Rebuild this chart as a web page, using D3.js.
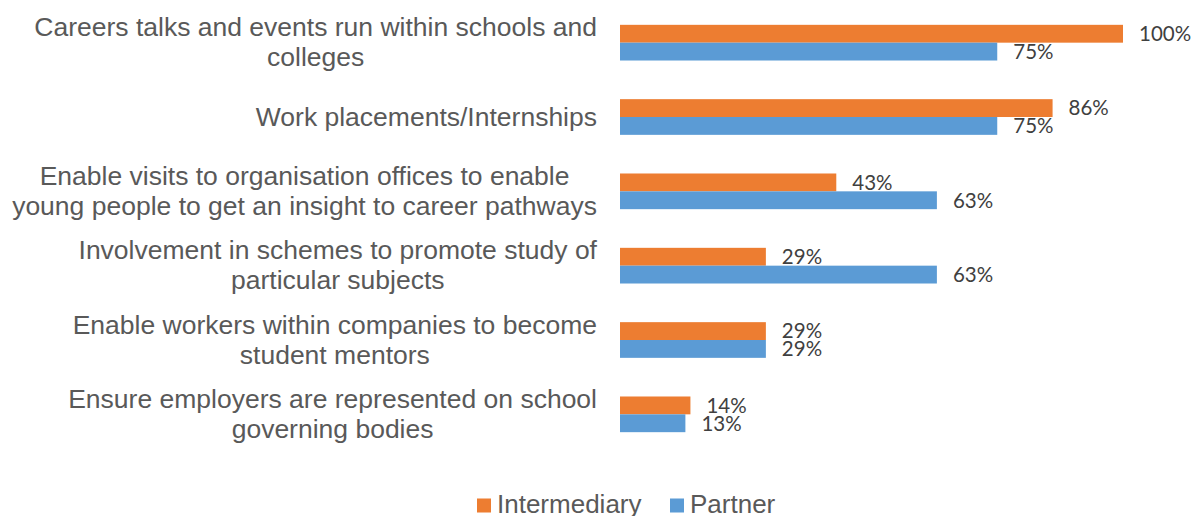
<!DOCTYPE html>
<html>
<head>
<meta charset="utf-8">
<script src="https://cdn.jsdelivr.net/npm/d3@7"></script>
<style>
  html, body { margin: 0; padding: 0; background: #fff; }
  svg { display: block; }
</style>
</head>
<body>
<svg id="chart" width="1195" height="516"></svg>
<script>
// Categories, each split into the lines shown on the axis
const categories = [
  ["Careers talks and events run within schools and", "colleges"],
  ["Work placements/Internships"],
  ["Enable visits to organisation offices to enable", "young people to get an insight to career pathways"],
  ["Involvement in schemes to promote study of", "particular subjects"],
  ["Enable workers within companies to become", "student mentors"],
  ["Ensure employers are represented on school", "governing bodies"]
];
const seriesNames = ["Intermediary", "Partner"];
const intermediary = [100, 86, 43, 29, 29, 14];
const partner = [75, 75, 63, 63, 29, 13];
const seriesColors = ["#ED7D31", "#5B9BD5"];

const svg = d3.select("#chart");
const plot = { left: 620, right: 1123, top: 5.5, bottom: 451.5 };

const keys = categories.map((c, i) => "c" + i);
const x = d3.scaleLinear().domain([0, 100]).range([plot.left, plot.right]);
const y = d3.scaleBand().domain(keys).range([plot.top, plot.bottom]).paddingInner(0.52).paddingOuter(0.26);
const ySub = d3.scaleBand().domain(seriesNames).range([0, y.bandwidth()]);

const rows = keys.map((k, i) => ({
  key: k,
  lines: categories[i],
  values: [
    { name: seriesNames[0], v: intermediary[i], color: seriesColors[0] },
    { name: seriesNames[1], v: partner[i], color: seriesColors[1] }
  ]
}));

// Bars
const groups = svg.append("g").selectAll("g").data(rows).join("g")
  .attr("transform", d => `translate(0,${y(d.key)})`);

groups.selectAll("rect").data(d => d.values).join("rect")
  .attr("x", x(0))
  .attr("y", d => ySub(d.name))
  .attr("width", d => x(d.v) - x(0))
  .attr("height", ySub.bandwidth())
  .attr("fill", d => d.color);

// Value labels
groups.selectAll("text").data(d => d.values).join("text")
  .attr("x", d => x(d.v) + 16)
  .attr("y", d => ySub(d.name) + ySub.bandwidth() / 2)
  .attr("dy", "0.36em")
  .attr("font-family", "Lato, 'Open Sans', sans-serif")
  .attr("font-size", 20.5)
  .attr("fill", "#404040")
  .text(d => d.v + "%");

// Category labels: centred lines, block right-aligned beside the axis
const labelFont = "'Liberation Sans', Arial, sans-serif";
const labelSize = 26.5;
const lineH = 30;
const labelRight = 597;
const labelG = svg.append("g");
rows.forEach(r => {
  const cy = y(r.key) + y.bandwidth() / 2;
  const g = labelG.append("g");
  const texts = r.lines.map((ln, j) => g.append("text")
    .attr("font-family", labelFont)
    .attr("font-size", labelSize)
    .attr("fill", "#595959")
    .attr("text-anchor", "middle")
    .attr("y", cy + (j - (r.lines.length - 1) / 2) * lineH)
    .attr("dy", "0.33em")
    .text(ln));
  const maxW = d3.max(texts, t => t.node().getComputedTextLength());
  texts.forEach(t => t.attr("x", labelRight - maxW / 2));
});

// Legend
const legend = svg.append("g");
const legendItems = [
  { name: seriesNames[0], color: seriesColors[0], x: 477 },
  { name: seriesNames[1], color: seriesColors[1], x: 670 }
];
legendItems.forEach(it => {
  legend.append("rect").attr("x", it.x).attr("y", 498.5).attr("width", 14).attr("height", 14).attr("fill", it.color);
  legend.append("text")
    .attr("x", it.x + 20).attr("y", 503.5).attr("dy", "0.36em")
    .attr("font-family", labelFont).attr("font-size", 26).attr("fill", "#595959")
    .text(it.name);
});
</script>
</body>
</html>
